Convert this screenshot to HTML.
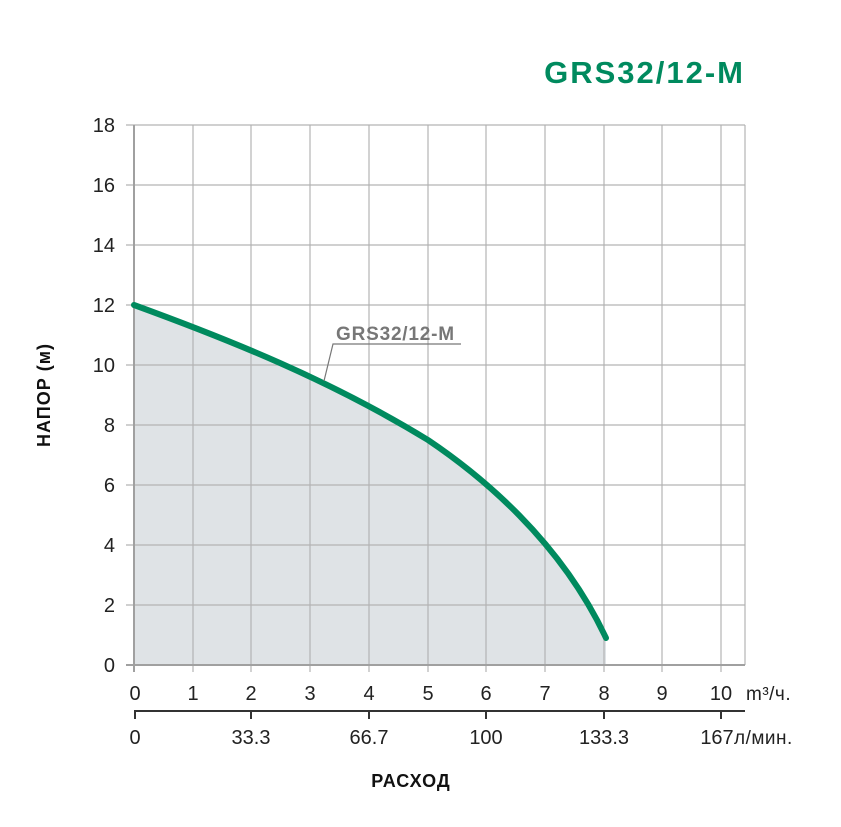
<!DOCTYPE html>
<html><head><style>body{margin:0;background:#fff}svg{display:block}</style></head><body>
<svg width="841" height="827" xmlns="http://www.w3.org/2000/svg" font-family="Liberation Sans, sans-serif">
<text x="745" y="83" text-anchor="end" font-size="31" font-weight="bold" fill="#008a5e" letter-spacing="2">GRS32/12-M</text>
<path d="M134,305 C230,340 330,380 428,440 C480,475 560,540 606,638 L606,665 L134,665 Z" fill="#dfe3e6"/>
<g stroke="#b3b3b3" stroke-width="1.2">
<line x1="193" y1="125" x2="193" y2="672"/><line x1="251" y1="125" x2="251" y2="672"/><line x1="310" y1="125" x2="310" y2="672"/><line x1="369" y1="125" x2="369" y2="672"/><line x1="428" y1="125" x2="428" y2="672"/><line x1="486" y1="125" x2="486" y2="672"/><line x1="545" y1="125" x2="545" y2="672"/><line x1="604" y1="125" x2="604" y2="672"/><line x1="662" y1="125" x2="662" y2="672"/><line x1="721" y1="125" x2="721" y2="672"/><line x1="745" y1="125" x2="745" y2="665"/>
<line x1="126" y1="125" x2="745" y2="125"/><line x1="126" y1="185" x2="745" y2="185"/><line x1="126" y1="245" x2="745" y2="245"/><line x1="126" y1="305" x2="745" y2="305"/><line x1="126" y1="365" x2="745" y2="365"/><line x1="126" y1="425" x2="745" y2="425"/><line x1="126" y1="485" x2="745" y2="485"/><line x1="126" y1="545" x2="745" y2="545"/><line x1="126" y1="605" x2="745" y2="605"/>
</g>
<line x1="134" y1="125" x2="134" y2="672" stroke="#a0a0a0" stroke-width="2"/>
<line x1="126" y1="665" x2="745" y2="665" stroke="#a0a0a0" stroke-width="2"/>
<path d="M134,305 C230,340 330,380 428,440 C480,475 560,540 606,638" fill="none" stroke="#008a5e" stroke-width="6" stroke-linecap="round"/>
<polyline points="324,381 333,344 461,344" fill="none" stroke="#777" stroke-width="1.2"/>
<text x="336" y="340" font-size="19" font-weight="bold" fill="#777" letter-spacing="0.8">GRS32/12-M</text>
<g font-size="20" fill="#222" text-anchor="end">
<text x="115" y="672">0</text><text x="115" y="612">2</text><text x="115" y="552">4</text><text x="115" y="492">6</text><text x="115" y="432">8</text><text x="115" y="372">10</text><text x="115" y="312">12</text><text x="115" y="252">14</text><text x="115" y="192">16</text><text x="115" y="132">18</text>
</g>
<g font-size="20" fill="#222" text-anchor="middle">
<text x="135" y="700">0</text><text x="193" y="700">1</text><text x="251" y="700">2</text><text x="310" y="700">3</text><text x="369" y="700">4</text><text x="428" y="700">5</text><text x="486" y="700">6</text><text x="545" y="700">7</text><text x="604" y="700">8</text><text x="662" y="700">9</text><text x="721" y="700">10</text>
<text x="135" y="744">0</text><text x="251" y="744">33.3</text><text x="369" y="744">66.7</text><text x="486" y="744">100</text><text x="604" y="744">133.3</text><text x="717" y="744">167</text>
</g>
<text x="746" y="700" font-size="19" fill="#222" letter-spacing="0.5">m³/ч.</text>
<text x="734" y="744" font-size="19" fill="#222" letter-spacing="0.5">л/мин.</text>
<g stroke="#333" stroke-width="2">
<line x1="134" y1="711" x2="745" y2="711"/>
<line x1="135" y1="711" x2="135" y2="719"/><line x1="251" y1="711" x2="251" y2="719"/><line x1="369" y1="711" x2="369" y2="719"/><line x1="486" y1="711" x2="486" y2="719"/><line x1="604" y1="711" x2="604" y2="719"/><line x1="721" y1="711" x2="721" y2="719"/>
</g>
<text x="411" y="787" text-anchor="middle" font-size="18" font-weight="bold" fill="#111" letter-spacing="1">РАСХОД</text>
<text transform="translate(50,395) rotate(-90)" text-anchor="middle" font-size="18" font-weight="bold" fill="#111" letter-spacing="1">НАПОР (м)</text>
</svg>
</body></html>
